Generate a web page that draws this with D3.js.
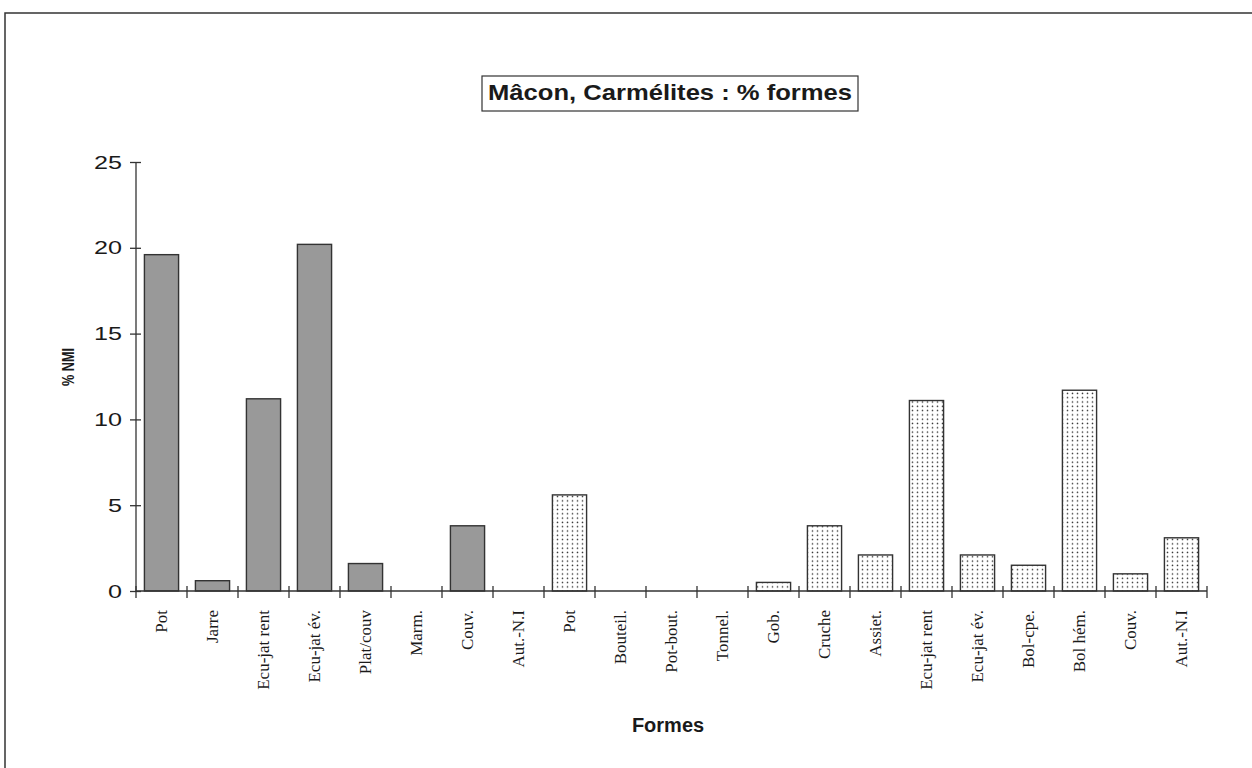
<!DOCTYPE html>
<html>
<head>
<meta charset="utf-8">
<script src="https://cdnjs.cloudflare.com/ajax/libs/d3/7.8.5/d3.min.js"></script>
<style>
	body { margin: 0; background: #fff; }
	svg { display: block; }
</style>
</head>
<body>
<script>
// Data
var categories = ["Pot", "Jarre", "Ecu-jat rent", "Ecu-jat év.", "Plat/couv", "Marm.", "Couv.", "Aut.-N.I",
	"Pot", "Bouteil.", "Pot-bout.", "Tonnel.", "Gob.", "Cruche", "Assiet.", "Ecu-jat rent", "Ecu-jat év.",
	"Bol-cpe.", "Bol hém.", "Couv.", "Aut.-N.I"];
var values = [19.6, 0.6, 11.2, 20.2, 1.6, 0, 3.8, 0,
	5.6, 0, 0, 0, 0.5, 3.8, 2.1, 11.1, 2.1, 1.5, 11.7, 1.0, 3.1];
var groups = ["commune", "commune", "commune", "commune", "commune", "commune", "commune", "commune",
	"fine", "fine", "fine", "fine", "fine", "fine", "fine", "fine", "fine", "fine", "fine", "fine", "fine"];
var yTicks = [0, 5, 10, 15, 20, 25];
var title = "Mâcon, Carmélites : % formes";
var yTitle = "% NMI";
var xTitle = "Formes";

// Dimensions
var w = 1252;
var h = 768;
var plotLeft = 136;
var plotRight = 1207;
var plotTop = 162;
var plotBottom = 591;

var svg = d3.select("body").
append("svg").
attr("width", w).
attr("height", h);

// dotted pattern for the second group
var defs = svg.append("defs");
var pat = defs.append("pattern").
attr("id", "dots").
attr("patternUnits", "userSpaceOnUse").
attr("width", 5).
attr("height", 4.3);
pat.append("rect").attr("width", 5).attr("height", 4.3).attr("fill", "#fff");
pat.append("circle").attr("cx", 2.5).attr("cy", 2.1).attr("r", 0.8).attr("fill", "#333");

// outer frame
svg.append("rect").
attr("x", 5).
attr("y", 13).
attr("width", 1300).
attr("height", 800).
style("fill", "none").
style("stroke", "#333").
style("stroke-width", 1.5);

// Scales
var idx = d3.range(categories.length);
var x = d3.scaleBand().domain(idx).range([plotLeft, plotRight]).paddingInner(0.33).paddingOuter(0.165);
var xb = d3.scaleBand().domain(idx).range([plotLeft, plotRight]).padding(0);
var y = d3.scaleLinear().domain([0, 25]).range([plotBottom, plotTop]);

// Title box
var tb = svg.append("g");
tb.append("rect").
attr("x", 482).
attr("y", 76).
attr("width", 376).
attr("height", 35).
style("fill", "#fff").
style("stroke", "#333").
style("stroke-width", 1.2);
tb.append("text").
attr("x", 670).
attr("y", 99.5).
attr("text-anchor", "middle").
attr("textLength", 364).
attr("lengthAdjust", "spacingAndGlyphs").
style("font-family", "Liberation Sans, Arial, sans-serif").
style("font-weight", "bold").
style("font-size", "22px").
style("fill", "#1a1a1a").
text(title);

// Bars
svg.selectAll(".bar").
data(idx).
enter().append("rect").
attr("class", "bar").
attr("x", function (i) {return x(i);}).
attr("y", function (i) {return y(values[i]);}).
attr("width", x.bandwidth()).
attr("height", function (i) {return plotBottom - y(values[i]);}).
style("display", function (i) {return values[i] > 0 ? null : "none";}).
style("fill", function (i) {return groups[i] === "commune" ? "#999" : "url(#dots)";}).
style("stroke", "#333").
style("stroke-width", 1.4);

// Y axis
var yAxis = svg.append("g").
attr("transform", "translate(" + plotLeft + ",0)").
call(d3.axisLeft(y).tickValues(yTicks).tickSize(6).tickPadding(12));
yAxis.select(".domain").attr("d", "M0," + plotTop + "V" + plotBottom).style("stroke", "#333").style("stroke-width", 1.3);
yAxis.selectAll(".tick line").attr("x1", -6).attr("x2", 5).style("stroke", "#333").style("stroke-width", 1.3);
yAxis.selectAll(".tick text").
attr("x", -14).
attr("textLength", function (d) {return String(d).length * 14;}).
attr("lengthAdjust", "spacingAndGlyphs").
style("font-family", "Liberation Sans, Arial, sans-serif").
style("font-size", "19px").
style("fill", "#1a1a1a");

// X axis
var xAxis = svg.append("g");
xAxis.append("line").
attr("x1", plotLeft).attr("x2", plotRight).
attr("y1", plotBottom).attr("y2", plotBottom).
style("stroke", "#333").style("stroke-width", 1.3);
xAxis.selectAll(".xtick").
data(idx.concat([categories.length])).
enter().append("line").
attr("class", "xtick").
attr("x1", function (i) {return i < categories.length ? xb(i) : plotRight;}).
attr("x2", function (i) {return i < categories.length ? xb(i) : plotRight;}).
attr("y1", plotBottom - 5).
attr("y2", plotBottom + 7).
style("stroke", "#333").
style("stroke-width", 1.3);

xAxis.selectAll(".xlabel").
data(idx).
enter().append("text").
attr("class", "xlabel").
attr("transform", function (i) {return "translate(" + (xb(i) + xb.bandwidth() / 2) + ",610) rotate(-90)";}).
attr("dy", "0.35em").
attr("text-anchor", "end").
style("font-family", "Liberation Serif, Times New Roman, serif").
style("font-size", "17px").
style("fill", "#1a1a1a").
text(function (i) {return categories[i];});

// Axis titles
svg.append("text").
attr("transform", "translate(68,367) rotate(-90)").
attr("dy", "0.35em").
attr("text-anchor", "middle").
attr("textLength", 38).
attr("lengthAdjust", "spacingAndGlyphs").
style("font-family", "Liberation Sans, Arial, sans-serif").
style("font-weight", "bold").
style("font-size", "17px").
style("fill", "#1a1a1a").
text(yTitle);

svg.append("text").
attr("x", 668).
attr("y", 732).
attr("text-anchor", "middle").
style("font-family", "Liberation Sans, Arial, sans-serif").
style("font-weight", "bold").
style("font-size", "20px").
style("fill", "#1a1a1a").
text(xTitle);
</script>
</body>
</html>
